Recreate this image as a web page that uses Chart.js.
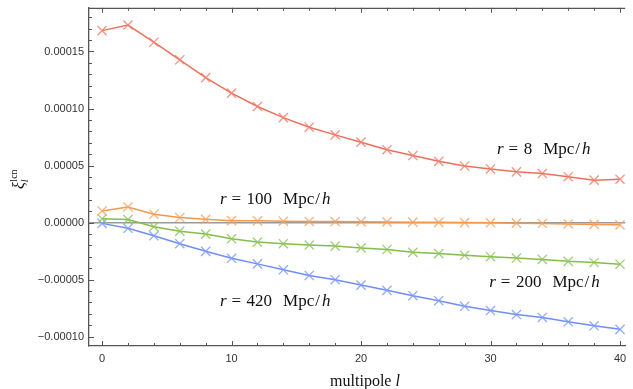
<!DOCTYPE html>
<html>
<head>
<meta charset="utf-8">
<script src="https://cdn.jsdelivr.net/npm/chart.js@4.4.1/dist/chart.umd.min.js"></script>
<style>
  html, body { margin: 0; padding: 0; background: #fff; }
</style>
</head>
<body>
<canvas id="chart" width="633" height="389"></canvas>
<script>
// --- Data ---
const multipoles = [0, 2, 4, 6, 8, 10, 12, 14, 16, 18, 20, 22, 24, 26, 28, 30, 32, 34, 36, 38, 40];

const xiR8 = [16.83e-5, 17.32e-5, 15.81e-5, 14.27e-5, 12.71e-5, 11.35e-5, 10.18e-5, 9.20e-5, 8.36e-5, 7.69e-5, 7.05e-5,
              6.39e-5, 5.88e-5, 5.37e-5, 4.96e-5, 4.70e-5, 4.45e-5, 4.30e-5, 4.02e-5, 3.72e-5, 3.80e-5];
const xiR100 = [1.02e-5, 1.37e-5, 0.73e-5, 0.44e-5, 0.29e-5, 0.17e-5, 0.15e-5, 0.12e-5, 0.10e-5, 0.09e-5, 0.08e-5,
                0.06e-5, 0.04e-5, 0.02e-5, 0.00e-5, -0.02e-5, -0.05e-5, -0.08e-5, -0.12e-5, -0.16e-5, -0.20e-5];
const xiR200 = [0.33e-5, 0.26e-5, -0.36e-5, -0.75e-5, -1.01e-5, -1.42e-5, -1.71e-5, -1.85e-5, -1.97e-5, -2.06e-5, -2.22e-5,
                -2.36e-5, -2.61e-5, -2.72e-5, -2.87e-5, -2.99e-5, -3.11e-5, -3.23e-5, -3.40e-5, -3.50e-5, -3.65e-5];
const xiR420 = [-0.07e-5, -0.50e-5, -1.16e-5, -1.85e-5, -2.52e-5, -3.13e-5, -3.62e-5, -4.14e-5, -4.64e-5, -5.01e-5, -5.48e-5,
                -5.94e-5, -6.41e-5, -6.85e-5, -7.34e-5, -7.71e-5, -8.06e-5, -8.32e-5, -8.70e-5, -9.05e-5, -9.36e-5];

const xTicks = [0, 10, 20, 30, 40];
const yTicks = [-0.0001, -0.00005, 0, 0.00005, 0.0001, 0.00015];

// curve labels: radius text and where it sits (data coords of left / middle)
const curveLabels = [
    { num: '8',   l: 30.5, v: 6.5e-5 },
    { num: '100', l: 9.1,  v: 2.15e-5 },
    { num: '200', l: 29.9, v: -5.1e-5 },
    { num: '420', l: 9.1,  v: -6.8e-5 }
];

const SERIF = '"Liberation Serif", "Times New Roman", serif';
const SANS = '"Liberation Sans", Arial, sans-serif';
const FRAME = '#555';

function series(values, line, mark) {
    return {
        data: multipoles.map((l, i) => ({ x: l, y: values[i] })),
        borderColor: line,
        borderWidth: 1.5,
        pointStyle: 'crossRot',
        pointRadius: 6.5,
        pointBorderWidth: 1.3,
        pointBorderColor: mark,
        pointBackgroundColor: mark,
        tension: 0
    };
}

// --- Frame, inward ticks, text ---
const framePlugin = {
    id: 'frame',
    afterDatasetsDraw(chart) {
        const { ctx, chartArea: a, scales: { x, y } } = chart;
        ctx.save();
        ctx.strokeStyle = FRAME;
        ctx.lineWidth = 1.2;
        ctx.beginPath();
        ctx.moveTo(a.left, a.top + 0.5);
        ctx.lineTo(a.right, a.top + 0.5);
        ctx.stroke();

        ctx.lineWidth = 1;
        ctx.beginPath();
        for (let l = 0; l <= 40; l += 2) {
            const px = Math.round(x.getPixelForValue(l)) + 0.5;
            const len = l % 10 === 0 ? 5 : 3;
            ctx.moveTo(px, a.bottom);
            ctx.lineTo(px, a.bottom - len);
            ctx.moveTo(px, a.top);
            ctx.lineTo(px, a.top + len);
        }
        for (let k = -10; k <= 18; k++) {
            const py = Math.round(y.getPixelForValue(k * 1e-5)) + 0.5;
            const len = k % 5 === 0 ? 5 : 3;
            ctx.moveTo(a.left, py);
            ctx.lineTo(a.left + len, py);
        }
        ctx.stroke();
        ctx.restore();
    },
    afterDraw(chart) {
        const { ctx, scales: { x, y } } = chart;
        ctx.save();
        ctx.fillStyle = '#111';
        ctx.textBaseline = 'alphabetic';

        // r = N Mpc/h labels
        curveLabels.forEach(lab => {
            let px = x.getPixelForValue(lab.l);
            const base = y.getPixelForValue(lab.v) + 6;
            ctx.font = 'italic 17px ' + SERIF;
            ctx.fillText('r', px, base);
            px += ctx.measureText('r').width + 5;
            ctx.font = '17px ' + SERIF;
            ctx.fillText('=', px, base);
            px += ctx.measureText('=').width + 5.5;
            ctx.fillText(lab.num, px, base);
            px += ctx.measureText(lab.num).width + 11;
            ctx.fillText('Mpc', px, base);
            px += ctx.measureText('Mpc').width + 1;
            ctx.fillText('/', px, base);
            px += ctx.measureText('/').width + 2;
            ctx.font = 'italic 17px ' + SERIF;
            ctx.fillText('h', px, base);
        });

        // x title: multipole l
        ctx.font = '16px ' + SERIF;
        const w1 = ctx.measureText('multipole ').width;
        ctx.font = 'italic 16px ' + SERIF;
        const w2 = ctx.measureText('l').width;
        let tx = 365 - (w1 + w2) / 2;
        ctx.font = '16px ' + SERIF;
        ctx.fillText('multipole ', tx, 385.5);
        ctx.font = 'italic 16px ' + SERIF;
        ctx.fillText('l', tx + w1, 385.5);

        // y title: xi_l^lcn, rotated
        ctx.translate(24, 189);
        ctx.rotate(-Math.PI / 2);
        ctx.font = 'italic 16px ' + SERIF;
        ctx.fillText('ξ', 0, 0);
        const wx = ctx.measureText('ξ').width;
        ctx.font = '10px ' + SERIF;
        ctx.fillText('lcn', wx + 0.5, -7);
        ctx.font = 'italic 10px ' + SERIF;
        ctx.fillText('l', wx, 3.5);
        ctx.restore();
    }
};

new Chart(document.getElementById('chart'), {
    type: 'line',
    data: {
        datasets: [
            series(xiR8, 'rgb(238,112,92)', 'rgba(242,128,110,0.85)'),
            series(xiR100, 'rgb(245,152,75)', 'rgba(247,165,100,0.85)'),
            series(xiR200, 'rgb(132,190,72)', 'rgba(145,198,95,0.85)'),
            series(xiR420, 'rgb(112,142,250)', 'rgba(128,156,250,0.85)')
        ]
    },
    options: {
        responsive: false,
        devicePixelRatio: 1,
        animation: false,
        layout: { padding: { top: 5, right: 0, left: 0, bottom: 0 } },
        plugins: { legend: { display: false }, tooltip: { enabled: false } },
        scales: {
            x: {
                type: 'linear',
                min: -1.01,
                max: 40.4,
                afterBuildTicks: s => { s.ticks = xTicks.map(v => ({ value: v })); },
                afterFit: s => { s.height = 43; s.paddingLeft = 0; s.paddingRight = 0; },
                grid: { display: true, drawTicks: false, color: 'rgba(0,0,0,0)' },
                border: { display: true, color: FRAME, width: 1.3 },
                ticks: {
                    padding: 6,
                    color: '#333',
                    font: { family: SANS, size: 11 },
                    maxRotation: 0,
                    autoSkip: false,
                    callback: v => String(v)
                }
            },
            y: {
                type: 'linear',
                min: -1.082e-4,
                max: 1.883e-4,
                afterBuildTicks: s => { s.ticks = yTicks.map(v => ({ value: v })); },
                afterFit: s => { s.width = 89; s.paddingTop = 0; s.paddingBottom = 0; },
                grid: {
                    display: true,
                    drawTicks: false,
                    lineWidth: 1.5,
                    color: c => (c.tick && c.tick.value === 0 ? '#9a9a9a' : 'rgba(0,0,0,0)')
                },
                border: { display: true, color: FRAME, width: 1.3 },
                ticks: {
                    padding: 5,
                    color: '#333',
                    font: { family: SANS, size: 11 },
                    autoSkip: false,
                    callback: v => v.toFixed(5).replace('-', '\u2212')
                }
            }
        }
    },
    plugins: [framePlugin]
});
</script>
</body>
</html>
